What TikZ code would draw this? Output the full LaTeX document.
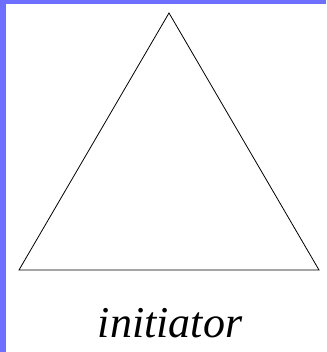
\documentclass[tikz,border=0pt]{standalone}
\usepackage{fontspec}
\setmainfont{Liberation Serif}
\definecolor{frameblue}{HTML}{6E6EFF}
\begin{document}
\begin{tikzpicture}[x=1pt,y=1pt]
	\useasboundingbox (0,0) rectangle (326,352);
	\fill[white] (0,0) rectangle (326,352);
	\fill[frameblue] (0,0) rectangle (6,352);
	\fill[frameblue] (0,348) rectangle (326,352);
	\coordinate (A) at (19,82);
	\coordinate (B) at (319,82);
	\coordinate (C) at (169,339);
	\draw[line width=0.8pt] (A)--(B)--(C)--cycle;
	\node[anchor=base] (label) at (170,14) {\fontsize{44}{50}\selectfont\itshape initiator};
\end{tikzpicture}
\end{document}
